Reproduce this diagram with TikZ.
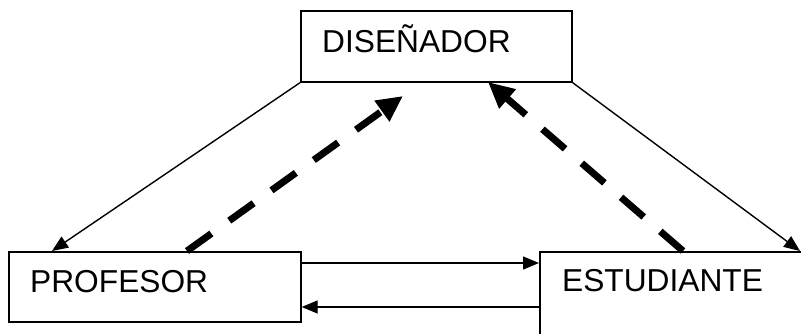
\documentclass[tikz,border=0pt]{standalone}
\usepackage{fontspec}
\setmainfont{Liberation Sans}
\usetikzlibrary{arrows.meta,calc}
\begin{document}
\begin{tikzpicture}[x=1pt,y=-1pt,
  box/.style={draw=black,line width=1.7pt,rectangle,inner sep=0pt,anchor=north west},
  lbl/.style={inner sep=0pt,anchor=base west,font=\fontsize{31.7}{38}\selectfont},
  conn/.style={line width=1.4pt,-{Triangle[length=16pt,width=13pt]}},
  flow/.style={line width=7pt,dash pattern=on 30pt off 22pt,-{Triangle[length=26pt,width=24pt]}}]
\useasboundingbox (0,0) rectangle (801,333);
\clip (0,0) rectangle (801,333);
\node[box,minimum width=271pt,minimum height=71pt] (dis) at (300,10) {};
\node[box,minimum width=292pt,minimum height=70pt] (prof) at (8,251) {};
\node[box,minimum width=320pt,minimum height=130pt] (est) at (539,251) {};
\node[lbl] (dist) at (322,52) {DISEÑADOR};
\node[lbl] (proft) at (30,292) {PROFESOR};
\node[lbl] (estt) at (562,291) {ESTUDIANTE};
\coordinate (pin) at ($(prof.north west)+(44,0)$);
\coordinate (pout) at ($(prof.north west)+(179,0)$);
\coordinate (ein) at (800,251);
\coordinate (eout) at ($(est.north west)+(144,0)$);
\coordinate (dt1) at (403,96);
\coordinate (dt2) at (488,82);
\draw[conn] (dis.south west) -- (pin);
\draw[conn] (dis.south east) -- (ein);
\draw[conn] ($(prof.north east)+(0,12)$) -- ($(est.north west)+(0,12)$);
\draw[conn] ($(est.north west)+(0,56)$) -- ($(prof.north east)+(0,56)$);
\draw[flow] (pout) -- (dt1);
\draw[flow] (eout) -- (dt2);
\end{tikzpicture}
\end{document}
